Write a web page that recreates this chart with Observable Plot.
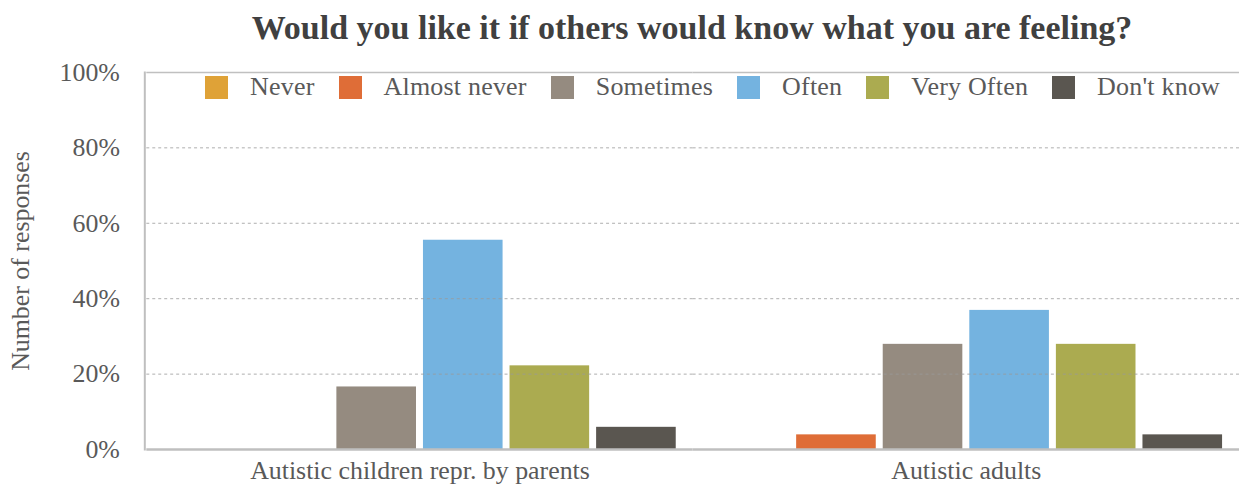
<!DOCTYPE html>
<html><head><meta charset="utf-8">
<script src="https://cdn.jsdelivr.net/npm/d3@7"></script>
<script src="https://cdn.jsdelivr.net/npm/@observablehq/plot@0.6"></script>
<style>
body{margin:0;background:#fff;font-family:"Liberation Serif","DejaVu Serif","Noto Serif","Times New Roman",serif;}
#wrap{position:relative;width:1239px;height:488px;overflow:hidden;}
#title{height:52px;line-height:55px;text-align:center;font-weight:bold;font-size:34px;color:#404040;padding-left:145px;width:1094px;white-space:nowrap;}
#legend{position:absolute;top:72px;left:205px;display:flex;align-items:center;font-size:26px;color:#595959;white-space:nowrap;letter-spacing:0.2px;}
#legend .item{display:flex;align-items:center;margin-right:24px;}
#legend .sw{width:23px;height:23px;margin-right:22px;}
</style></head>
<body><div id="wrap"><div id="title"></div><div id="chart"></div><div id="legend"></div></div>
<script>
const titleText = "Would you like it if others would know what you are feeling?";
const yLabel = "Number of responses";
const groups = ["Autistic children repr. by parents", "Autistic adults"];
const categories = ["Never", "Almost never", "Sometimes", "Often", "Very Often", "Don't know"];
const childrenValues = [0, 0, 16.6, 55.5, 22.2, 5.9];
const adultValues = [0, 3.9, 27.9, 36.9, 27.9, 3.9];
const colors = ["#DFA237", "#DF6D37", "#958B80", "#74B3E0", "#ABAB50", "#5A5650"];
const yTicks = [0, 20, 40, 60, 80, 100];

document.getElementById("title").textContent = titleText;

const data = [];
groups.forEach((g, gi) => categories.forEach((c, ci) =>
  data.push({group: g, category: c, value: (gi === 0 ? childrenValues : adultValues)[ci]})));

const plot = Plot.plot({
  width: 1245, height: 436,
  marginTop: 20, marginBottom: 37, marginLeft: 147, marginRight: 0,
  style: {fontFamily: "'Liberation Serif','DejaVu Serif','Noto Serif','Times New Roman',serif", fontSize: "26px", color: "#595959", background: "white", overflow: "visible"},
  fx: {domain: groups, padding: 0, label: null},
  x: {domain: categories, paddingInner: 0.08, paddingOuter: 0.184, axis: null},
  y: {domain: [0, 100], axis: null},
  color: {domain: categories, range: colors},
  marks: [
    Plot.barY(data, {fx: "group", x: "category", y: "value", fill: "category"}),
    Plot.ruleY(yTicks.filter(t => t > 0 && t < 100), {stroke: "#9a9a9a", strokeDasharray: "3,3", strokeOpacity: 0.8}),
    Plot.ruleY([100], {stroke: "#c0c0c0", strokeWidth: 1.5}),
    Plot.ruleY([0], {stroke: "#bfbfbf", strokeWidth: 2.5}),
    Plot.frame({anchor: "left", stroke: "#bfbfbf", strokeWidth: 2, facet: "super", dx: -2}),
    Plot.axisY({ticks: yTicks, tickSize: 0, tickPadding: 27, tickFormat: d => d + "%", label: yLabel, labelAnchor: "center", labelArrow: "none", labelOffset: 137}),
    Plot.axisFx({anchor: "bottom", tickSize: 0, tickPadding: 11, label: null})
  ]
});
document.getElementById("chart").appendChild(plot);

const legend = document.getElementById("legend");
categories.forEach((c, i) => {
  const item = document.createElement("div");
  item.className = "item";
  const sw = document.createElement("div");
  sw.className = "sw";
  sw.style.background = colors[i];
  const t = document.createElement("span");
  t.textContent = c;
  item.appendChild(sw); item.appendChild(t);
  legend.appendChild(item);
});
</script></body></html>
